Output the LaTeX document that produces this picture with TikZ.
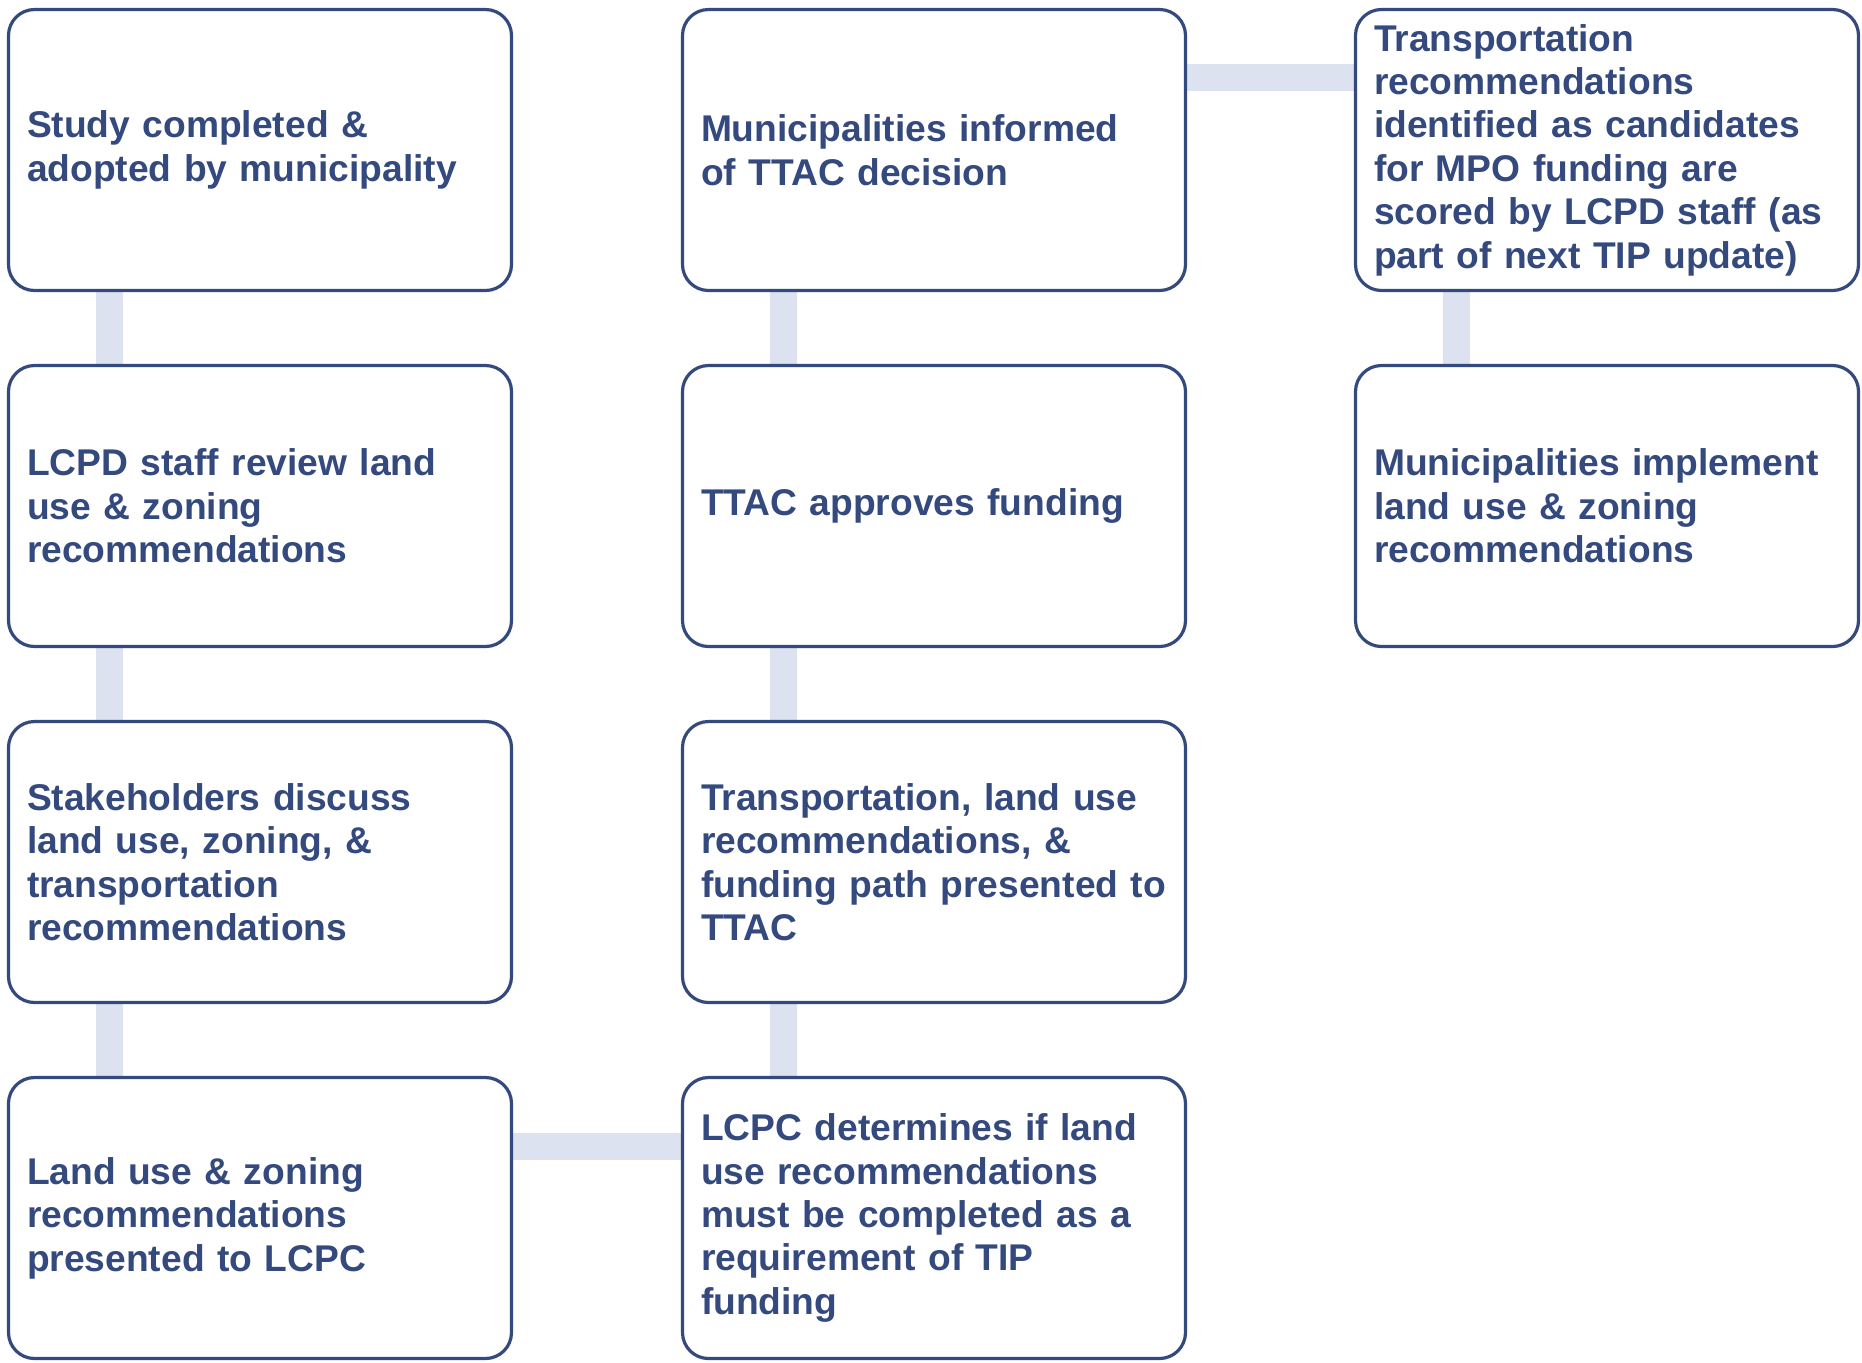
\documentclass[tikz,border=0pt]{standalone}
\usepackage{fontspec}
\setmainfont{Liberation Sans}
\usepackage{tikz}
\usetikzlibrary{backgrounds}

\definecolor{boxblue}{RGB}{52,74,127}
\definecolor{linkgray}{RGB}{220,226,239}

\begin{document}
\begin{tikzpicture}[
            x = 0.5pt, y = -0.5pt, % one unit per pixel, y going down
            stepbox/.style = {
                draw = boxblue,
                line width = 1.6pt,
                fill = white,
                rounded corners = 13pt,
                text = boxblue,
                font = \fontsize{18.6}{21.7}\selectfont\bfseries,
                align = left,
                text width = 233pt,
                inner xsep = 9.25pt,
                inner ysep = 0pt,
                minimum height = 140.5pt
            },
            link/.style = {draw = linkgray, line width = 13.5pt}, % pale bars
        ]

  \useasboundingbox (0,0) rectangle (1862,1362);

  % left column
  \node[stepbox] (n1) at (260,150)  {Study completed \&\\adopted by municipality};
  \node[stepbox] (n2) at (260,506)  {LCPD staff review land\\use \& zoning\\recommendations};
  \node[stepbox] (n3) at (260,862)  {Stakeholders discuss\\land use, zoning, \&\\transportation\\recommendations};
  \node[stepbox] (n4) at (260,1218) {Land use \& zoning\\recommendations\\presented to LCPC};

  % middle column
  \node[stepbox] (n5) at (934,1218) {LCPC determines if land\\use recommendations\\must be completed as a\\requirement of TIP\\funding};
  \node[stepbox] (n6) at (934,862)  {Transportation, land use\\recommendations, \&\\funding path presented to\\TTAC};
  \node[stepbox] (n7) at (934,506)  {TTAC approves funding};
  \node[stepbox] (n8) at (934,150)  {Municipalities informed\\of TTAC decision};

  % right column
  \node[stepbox] (n9) at (1607,150)  {Transportation\\recommendations\\identified as candidates\\for MPO funding are\\scored by LCPD staff (as\\part of next TIP update)};
  \node[stepbox] (n10) at (1607,506) {Municipalities implement\\land use \& zoning\\recommendations};

  \begin{scope}[on background layer]
    \draw[link] ([xshift=-75.5pt]n1.south) -- ([xshift=-75.5pt]n2.north);
    \draw[link] ([xshift=-75.5pt]n2.south) -- ([xshift=-75.5pt]n3.north);
    \draw[link] ([xshift=-75.5pt]n3.south) -- ([xshift=-75.5pt]n4.north);
    \draw[link] ([yshift=36pt]n4.east) -- ([yshift=36pt]n5.west);
    \draw[link] ([xshift=-75.5pt]n5.north) -- ([xshift=-75.5pt]n6.south);
    \draw[link] ([xshift=-75.5pt]n6.north) -- ([xshift=-75.5pt]n7.south);
    \draw[link] ([xshift=-75.5pt]n7.north) -- ([xshift=-75.5pt]n8.south);
    \draw[link] ([yshift=36.5pt]n8.east) -- ([yshift=36.5pt]n9.west);
    \draw[link] ([xshift=-75.5pt]n9.south) -- ([xshift=-75.5pt]n10.north);
  \end{scope}

\end{tikzpicture}
\end{document}
